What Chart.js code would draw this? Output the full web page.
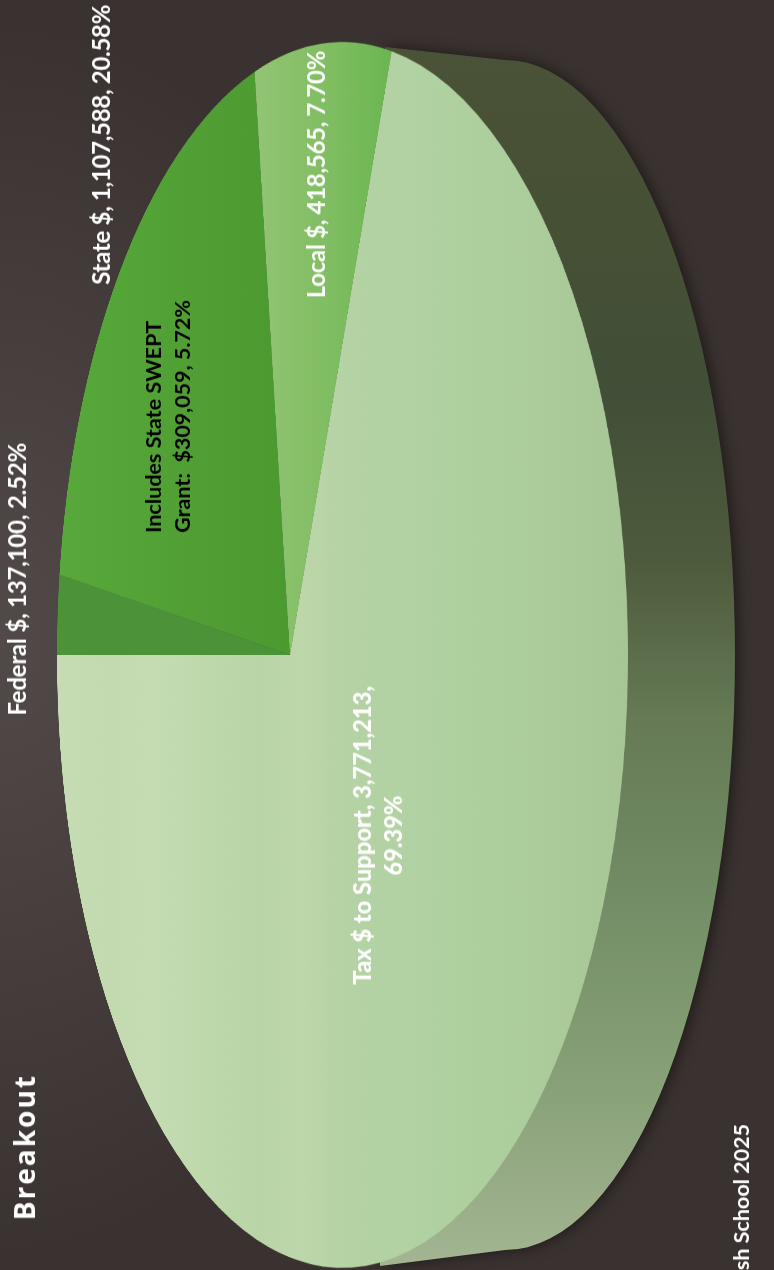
<!DOCTYPE html>
<html>
<head>
<meta charset="utf-8">
<title>Revenue Breakout</title>
<script src="https://cdn.jsdelivr.net/npm/chart.js@4"></script>
<style>
    html, body { margin: 0; padding: 0; }
    body {
        width: 774px; height: 1270px; overflow: hidden; position: relative;
        background:
            radial-gradient(ellipse 420px 620px at 0px 640px, #524a48 0%, rgba(82,74,72,0) 100%),
            #3a3230;
    }
    canvas { position: absolute; left: 0; top: 0; }
    #pieChart { transform-origin: 0 0; }
    .label {
        position: absolute; writing-mode: vertical-rl; transform: rotate(180deg);
        white-space: nowrap; font-family: Lato, sans-serif; font-weight: 700;
        font-size: 24px; line-height: 30px; letter-spacing: -0.2px; color: #fff;
    }
</style>
</head>
<body>
<canvas id="wallCanvas" width="774" height="1270"></canvas>
<canvas id="pieChart" width="1300" height="1300"></canvas>

<script>
// funding sources, dollars
const sources = ['Tax $ to Support', 'Federal $', 'State $', 'Local $'];
const amounts = [3771213, 137100, 1107588, 418565];

const labelLines = [
    ['Federal $, 137,100, 2.52%'],
    ['State $, 1,107,588, 20.58%'],
    ['Local $, 418,565, 7.70%'],
    ['Includes State SWEPT', 'Grant:&nbsp; $309,059, 5.72%'],
    ['Tax $ to Support, 3,771,213,', '69.39%']
];

// where the pie's left edge, apex, right edge and top land on the page
const edgeLeft = 57, apexX = 290, edgeRight = 628, midY = 655, edgeTop = 42;

const SIZE = 1300, R = SIZE / 2;

// projective fit: x' = (a x + b) / (1 + c x), y' = d y / (1 + c x)
const c = (2 * apexX - edgeLeft - edgeRight) / (edgeRight - edgeLeft);
const a = apexX - edgeLeft + edgeLeft * c;
const b = apexX;
const d = (midY - edgeTop) * Math.sqrt(1 - c * c);

// page x to canvas u, so gradients can be placed by where they show up
function pageToU(px) {
    const x = (px - b) / (a - c * px);
    return R + x * R;
}

function applyPerspective(canvas) {
    const m = [
        a / R, midY * c / R, 0, c / R,
        0, d / R, 0, 0,
        0, 0, 1, 0,
        b - a, midY * (1 - c) - d, 0, 1 - c
    ];
    canvas.style.transform = 'matrix3d(' + m.join(',') + ')';
}

function hGradient(ctx, stops) {
    const u0 = pageToU(stops[0][0]);
    const u1 = pageToU(stops[stops.length - 1][0]);
    const g = ctx.createLinearGradient(u0, 0, u1, 0);
    stops.forEach(s => g.addColorStop((pageToU(s[0]) - u0) / (u1 - u0), s[1]));
    return g;
}

// side of the drum, painted under the pie
function drawWall() {
    const ctx = document.getElementById('wallCanvas').getContext('2d');
    const g = ctx.createLinearGradient(0, 50, 0, 1265);
    g.addColorStop(0, '#4a5238');
    g.addColorStop(0.14, '#465034');
    g.addColorStop(0.28, '#414f38');
    g.addColorStop(0.42, '#4e5a3c');
    g.addColorStop(0.55, '#657a55');
    g.addColorStop(0.7, '#738d66');
    g.addColorStop(0.84, '#869f76');
    g.addColorStop(1, '#a3b592');
    ctx.save();
    ctx.shadowColor = 'rgba(0,0,0,0.5)';
    ctx.shadowBlur = 14;
    ctx.shadowOffsetX = 3;
    ctx.fillStyle = g;
    ctx.beginPath();
    ctx.moveTo(385, 47);
    ctx.lineTo(505, 60);
    ctx.ellipse(505, 655, 230, 595, 0, -Math.PI / 2, Math.PI / 2);
    ctx.lineTo(380, 1266);
    ctx.closePath();
    ctx.fill();
    ctx.restore();
}

function drawPie() {
    const canvas = document.getElementById('pieChart');
    const ctx = canvas.getContext('2d');
    const total = amounts.reduce((s, v) => s + v, 0);

    // faint vertical banding across the big slice
    const taxFill = hGradient(ctx, [
        [57, '#c6dcb4'], [110, '#c3dab0'], [150, '#c5dcb3'], [210, '#bdd8ab'], [260, '#b9d5a8'],
        [300, '#bdd6aa'], [350, '#b4d2a4'], [400, '#b2d2a3'], [460, '#aed09f'], [520, '#accd9c'],
        [580, '#a9ca98'], [628, '#a6c795']
    ]);
    const stateFill = hGradient(ctx, [[57, '#58a83c'], [120, '#54a537'], [200, '#509e34'], [290, '#4b9a30']]);
    const localFill = hGradient(ctx, [[255, '#92c474'], [330, '#80bd62'], [392, '#6ab650']]);

    new Chart(canvas, {
        type: 'pie',
        data: {
            labels: sources,
            datasets: [{
                data: amounts,
                backgroundColor: [taxFill, '#4c9238', stateFill, localFill],
                borderWidth: 0
            }]
        },
        options: {
            responsive: false,
            animation: false,
            devicePixelRatio: 1,
            rotation: 270 - amounts[0] / total * 360,
            radius: '100%',
            plugins: { legend: { display: false }, tooltip: { enabled: false } }
        }
    });
    applyPerspective(canvas);
}

// rotated captions, text reads bottom to top
function addLabel(html, left, bottomY, extra) {
    const el = document.createElement('div');
    el.className = 'label';
    el.innerHTML = html;
    el.style.left = left + 'px';
    el.style.bottom = (1270 - bottomY) + 'px';
    Object.assign(el.style, extra || {});
    document.body.appendChild(el);
}

drawWall();
drawPie();

addLabel(labelLines[0][0], 2, 716);
addLabel(labelLines[1][0], 86, 285, { letterSpacing: '-0.3px' });
addLabel(labelLines[2][0], 301, 298, { letterSpacing: '-0.3px' });
addLabel(labelLines[3].join('<br>'), 139, 533, { color: '#000', fontSize: '21.5px', lineHeight: '29px', letterSpacing: '0' });
addLabel(labelLines[4].join('<br>'), 347, 985, { fontSize: '23.7px', lineHeight: '31px', textAlign: 'center', letterSpacing: '0', fontWeight: '900' });
addLabel('Breakout', 6, 1220, { fontFamily: '"Open Sans", sans-serif', fontSize: '28px', letterSpacing: '2px', lineHeight: '36px' });
addLabel('sh School 2025', 727, 1270, { fontSize: '21.5px', lineHeight: '28px', letterSpacing: '0' });
</script>
</body>
</html>
